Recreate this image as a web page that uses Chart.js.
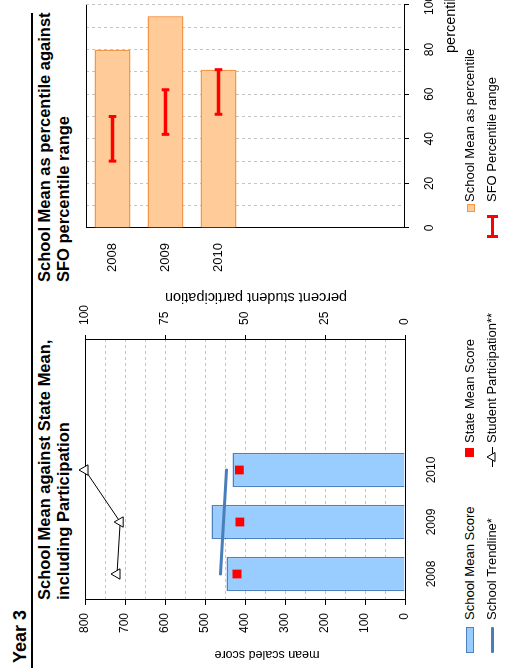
<!DOCTYPE html>
<html>
<head>
<meta charset="utf-8">
<title>Year 3</title>
<script src="https://cdn.jsdelivr.net/npm/chart.js@4.4.1/dist/chart.umd.min.js"></script>
<style>
  html, body { margin: 0; padding: 0; background: #fff; overflow: hidden; }
  /* the report page is laid out landscape and turned onto its side */
  #page {
    position: absolute; left: 0; top: 0; width: 668px; height: 509px;
    transform-origin: 0 0; transform: translate(0, 668px) rotate(-90deg);
    font-family: "Liberation Sans", Arial, Helvetica, sans-serif; color: #000;
  }
  #page canvas, #page .abs { position: absolute; }
  .heading { font-weight: bold; font-size: 16.5px; line-height: 19px; white-space: nowrap; }
  .key { font-size: 13px; line-height: 16px; white-space: nowrap; }
</style>
</head>
<body>
<div id="page">
  <div class="abs" style="left:5px;top:10px;font-weight:bold;font-size:18px;line-height:20px;">Year 3</div>
  <div class="abs" style="left:0;top:31px;width:655px;height:2px;background:#000;"></div>
  <div class="abs heading" style="left:68px;top:35px;">School Mean against State Mean,<br>including Participation</div>
  <div class="abs heading" style="left:386px;top:35px;">School Mean as percentile against<br>SFO percentile range</div>

  <canvas id="scoreChart" width="400" height="380" style="left:0;top:70px;"></canvas>
  <canvas id="pctChart" width="320" height="400" style="left:380px;top:70px;"></canvas>

  <!-- legend swatches -->
  <div class="abs" style="left:15px;top:466px;width:26px;height:8px;box-sizing:border-box;background:#99ccff;border:1px solid #4f81bd;"></div>
  <div class="abs" style="left:211px;top:465px;width:9px;height:9px;background:#ff0000;"></div>
  <div class="abs" style="left:15px;top:491px;width:26px;height:3px;background:#4a7ebb;border-radius:1px;"></div>
  <svg class="abs" style="left:200px;top:485px;" width="22" height="14">
    <line x1="1" y1="7.5" x2="21" y2="7.5" stroke="#000" stroke-width="1"/>
    <polygon points="11,2 15.5,10 6.5,10" fill="#fff" stroke="#000" stroke-width="1"/>
  </svg>
  <div class="abs" style="left:456px;top:467px;width:8px;height:8px;box-sizing:border-box;background:#ffcc99;border:1px solid #f79646;"></div>
  <div class="abs" style="left:430px;top:491px;width:23px;height:3px;background:#ff0000;"></div>
  <div class="abs" style="left:430px;top:487px;width:3px;height:11px;background:#ff0000;"></div>
  <div class="abs" style="left:450px;top:487px;width:3px;height:11px;background:#ff0000;"></div>
</div>

<script>
// mean scaled scores, years 2008-2010 (two empty slots follow)
const years = ['2008', '2009', '2010', '', ''];
const schoolMean = [446, 484, 431];
const stateMean = [420, 413, 414];
const schoolTrend = [461, 454, 446];
const participation = [90, 89, 100];

// school mean as a percentile, with the SFO range
const pctYears = ['2008', '2009', '2010', '', '', ''];
const schoolPercentile = [80, 95, 71];
const sfoLow = [30, 42, 51];
const sfoHigh = [50, 62, 71];

const scoreNames = ['School Mean Score', 'State Mean Score', 'School Trendline*', 'Student Participation**'];
const pctNames = ['School Mean as percentile', 'SFO Percentile range'];

const BLUE = '#99ccff', BLUE_EDGE = '#4f81bd', TREND = '#4a7ebb';
const ORANGE = '#ffcc99', ORANGE_EDGE = '#f79646', RED = '#ff0000';
const GRID = '#c4c4c4';

Chart.defaults.font.family = '"Liberation Sans", Arial, sans-serif';
Chart.defaults.font.size = 12;
Chart.defaults.color = '#000';
Chart.defaults.animation = false;

// fixed axis thickness, no extra room asked for the end labels
function fixSize(prop, size) {
  return s => {
    s[prop] = size;
    s.paddingTop = s.paddingBottom = s.paddingLeft = s.paddingRight = 0;
  };
}

// solid outline on some sides of the plot area
function framePlugin(sides) {
  return {
    id: 'frame',
    beforeDatasetsDraw(chart) {
      const a = chart.chartArea, ctx = chart.ctx;
      ctx.save();
      ctx.strokeStyle = '#000';
      ctx.lineWidth = 1;
      ctx.beginPath();
      if (sides.includes('top')) { ctx.moveTo(a.left, a.top + 0.5); ctx.lineTo(a.right, a.top + 0.5); }
      if (sides.includes('bottom')) { ctx.moveTo(a.left, a.bottom + 0.5); ctx.lineTo(a.right, a.bottom + 0.5); }
      if (sides.includes('left')) { ctx.moveTo(a.left + 0.5, a.top); ctx.lineTo(a.left + 0.5, a.bottom + 1); }
      if (sides.includes('right')) { ctx.moveTo(a.right + 0.5, a.top); ctx.lineTo(a.right + 0.5, a.bottom + 1); }
      ctx.stroke();
      ctx.restore();
    }
  };
}

// axis captions placed against the plot area edges
function captionPlugin(items) {
  return {
    id: 'captions',
    afterDraw(chart) {
      const a = chart.chartArea, ctx = chart.ctx;
      const mid = { x: (a.left + a.right) / 2, y: (a.top + a.bottom) / 2 };
      items.forEach(c => {
        const x = (c.ax === 'center' ? mid.x : a[c.ax]) + c.dx;
        const y = (c.ay === 'middle' ? mid.y : a[c.ay]) + c.dy;
        ctx.save();
        ctx.font = c.font;
        ctx.fillStyle = '#000';
        ctx.textAlign = c.align || 'center';
        ctx.textBaseline = 'middle';
        ctx.translate(x, y);
        ctx.rotate(c.angle || 0);
        ctx.fillText(c.text, 0, 0);
        ctx.restore();
      });
    }
  };
}

const FONT = '"Liberation Sans", Arial, sans-serif';

new Chart(document.getElementById('scoreChart'), {
  type: 'bar',
  data: {
    labels: years,
    datasets: [
      {
        type: 'line', label: scoreNames[3], data: participation, yAxisID: 'y1',
        borderColor: '#000', borderWidth: 1, pointStyle: 'triangle', pointRadius: 6,
        pointBackgroundColor: '#fff', pointBorderColor: '#000', pointBorderWidth: 1,
        clip: false, order: 1
      },
      {
        type: 'line', label: scoreNames[1], data: stateMean, showLine: false,
        pointStyle: 'rect', pointRadius: 6.2, pointBackgroundColor: RED,
        pointBorderColor: RED, pointBorderWidth: 0, order: 2
      },
      {
        type: 'line', label: scoreNames[2], data: schoolTrend, borderColor: TREND,
        borderWidth: 3, borderCapStyle: 'round', pointRadius: 0, order: 3
      },
      {
        label: scoreNames[0], data: schoolMean, backgroundColor: BLUE, borderColor: BLUE_EDGE,
        borderWidth: 1.5, categoryPercentage: 0.66, barPercentage: 1, order: 4
      }
    ]
  },
  options: {
    responsive: false,
    layout: { padding: { top: 15, left: 0, right: 0, bottom: 0 } },
    plugins: { legend: { display: false }, tooltip: { enabled: false } },
    scales: {
      x: {
        grid: { display: false, drawTicks: false },
        border: { display: false },
        ticks: { padding: 19, maxRotation: 0, autoSkip: false },
        afterFit: fixSize('height', 45)
      },
      y: {
        min: 0, max: 800,
        ticks: { stepSize: 50, padding: 8, autoSkip: false, callback: v => (v % 100 === 0 ? v : '') },
        grid: {
          color: GRID, tickLength: 5,
          tickColor: c => (c.tick && c.tick.value % 100 === 0 ? '#000' : 'rgba(0,0,0,0)')
        },
        border: { display: false, dash: [3, 3] },
        afterFit: fixSize('width', 68)
      },
      y1: {
        position: 'right', min: 0, max: 100,
        ticks: { stepSize: 25, padding: 10 },
        grid: { drawOnChartArea: false, tickLength: 5, tickColor: '#000' },
        border: { display: false },
        afterFit: fixSize('width', 72)
      }
    }
  },
  plugins: [
    framePlugin(['top', 'bottom', 'left', 'right']),
    captionPlugin([
      { text: 'mean scaled score', ax: 'left', dx: -54, ay: 'middle', dy: 22, angle: -Math.PI / 2, font: '12.5px ' + FONT },
      { text: 'percent student participation', ax: 'right', dx: 43, ay: 'middle', dy: 11, angle: -Math.PI / 2, font: '14.5px ' + FONT }
    ])
  ]
});

// cap ends of each SFO range
const capPoints = [];
sfoLow.forEach((lo, i) => {
  capPoints.push({ x: lo, y: pctYears[i] });
  capPoints.push({ x: sfoHigh[i], y: pctYears[i] });
});

new Chart(document.getElementById('pctChart'), {
  type: 'bar',
  data: {
    labels: pctYears,
    datasets: [
      {
        type: 'scatter', label: pctNames[1], data: capPoints, pointStyle: 'line',
        pointRotation: 90, pointRadius: 3.8, pointBorderColor: RED, pointBorderWidth: 3,
        borderColor: RED, order: 1
      },
      {
        label: pctNames[1], data: sfoLow.map((lo, i) => [lo, sfoHigh[i]]),
        backgroundColor: RED, barThickness: 3, grouped: false, order: 2
      },
      {
        label: pctNames[0], data: schoolPercentile, backgroundColor: ORANGE, borderColor: ORANGE_EDGE,
        borderWidth: 1.5, categoryPercentage: 0.68, barPercentage: 1, grouped: false, order: 3
      }
    ]
  },
  options: {
    responsive: false,
    indexAxis: 'y',
    layout: { padding: { top: 16, left: 0, right: 37, bottom: 0 } },
    plugins: { legend: { display: false }, tooltip: { enabled: false } },
    scales: {
      y: {
        type: 'category', offset: true,
        grid: { display: false, drawTicks: false },
        border: { display: false },
        ticks: { padding: 15, autoSkip: false, font: { size: 13 } },
        afterFit: fixSize('width', 60)
      },
      x: {
        type: 'linear', min: 0, max: 100,
        ticks: { stepSize: 10, padding: 13, autoSkip: false, maxRotation: 0, callback: v => (v % 20 === 0 ? v : '') },
        grid: {
          color: GRID, tickLength: 5,
          tickColor: c => (c.tick && c.tick.value % 20 === 0 ? '#000' : 'rgba(0,0,0,0)')
        },
        border: { display: false, dash: [3, 3] },
        afterFit: fixSize('height', 66)
      }
    }
  },
  plugins: [
    framePlugin(['top', 'bottom', 'left']),
    captionPlugin([
      { text: 'percentile', ax: 'left', dx: 175, ay: 'bottom', dy: 47, align: 'left', font: '14.5px ' + FONT }
    ])
  ]
});

// legend text beside the swatches
const page = document.getElementById('page');
function keyText(text, x, y) {
  const d = document.createElement('div');
  d.className = 'abs key';
  d.style.left = x + 'px';
  d.style.top = (y - 8) + 'px';
  d.textContent = text;
  page.appendChild(d);
}
keyText(scoreNames[0], 48, 470);
keyText(scoreNames[1], 225, 470);
keyText(scoreNames[2], 48, 492);
keyText(scoreNames[3], 225, 492);
keyText(pctNames[0], 466, 470);
keyText(pctNames[1], 466, 492);
</script>
</body>
</html>
